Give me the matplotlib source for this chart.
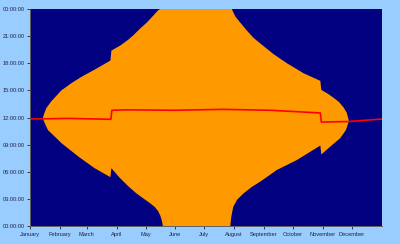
import numpy as np
import matplotlib.pyplot as plt

# day of year -> hours
sunset_day = [13.3, 14.6, 17, 22.2, 32.6, 43, 53.4, 67.2, 83.5, 84.5, 93.6, 102, 107.4, 114,
              121.3, 127, 133.4, 135.5,
              209.6, 213, 218.3, 225.3, 232.2, 242.5, 253, 266.8, 284, 301.5, 302.5,
              309, 315, 321, 325.7, 329, 331.2]
sunset_hr = [11.9, 12.4, 13.05, 13.8, 15.0, 15.8, 16.5, 17.3, 18.3, 19.4, 19.95, 20.6, 21.1, 21.8,
             22.5, 23.15, 23.9, 24,
             24, 23.2, 22.5, 21.6, 20.8, 19.9, 19.0, 18.0, 16.9, 16.05, 15.05,
             14.65, 14.2, 13.7, 13.1, 12.5, 11.6]

sunrise_day = [13.3, 15.2, 18.7, 25.6, 32.6, 50, 67, 83.5, 84.5, 93, 102, 110, 119, 125,
               129.6, 133, 135.5, 137, 138,
               208, 209, 211, 215, 221.7, 230, 239, 256.4, 277.2, 301.5, 302.5, 312, 322,
               328, 331.2]
sunrise_hr = [11.9, 11.4, 10.6, 9.9, 9.17, 7.7, 6.4, 5.4, 6.4, 5.35, 4.4, 3.65, 2.95, 2.5,
              2.1, 1.65, 1.1, 0.55, 0,
              0, 1.0, 2.1, 2.9, 3.6, 4.3, 4.9, 6.2, 7.3, 8.9, 7.9, 8.8, 9.7,
              10.6, 11.6]

noon_day = [0, 40, 84, 85, 100, 150, 200, 250, 301.5, 302.5, 330, 365]
noon_hr = [11.83, 11.9, 11.8, 12.8, 12.85, 12.8, 12.9, 12.8, 12.5, 11.5, 11.55, 11.83]

months = ['January', 'February', 'March', 'April', 'May', 'June', 'July',
          'August', 'September', 'October', 'November', 'December']
month_start = [0, 31, 59, 90, 120, 151, 181, 212, 243, 273, 304, 334]
hour_ticks = [0, 3, 6, 9, 12, 15, 18, 21, 24]
hour_labels = ['00:00:00', '03:00:00', '06:00:00', '09:00:00', '12:00:00',
               '15:00:00', '18:00:00', '21:00:00', '00:00:00']

plt.rcParams['font.family'] = ['Liberation Sans', 'DejaVu Sans']

fig = plt.figure(figsize=(4, 2.44), dpi=100, facecolor='#99CCFF')
ax = fig.add_axes([30/400, 18/244, 351.5/400, 217/244])
ax.set_facecolor('#000080')

poly_x = np.r_[sunset_day, sunrise_day[::-1]]
poly_y = np.r_[sunset_hr, sunrise_hr[::-1]]
ax.fill(poly_x, poly_y, color='#FF9900', lw=0)
ax.plot(noon_day, noon_hr, color='#FF0000', lw=1.2)

ax.set_xlim(0, 365)
ax.set_ylim(0, 24)
ax.set_xticks(month_start)
ax.set_xticklabels(months)
ax.set_yticks(hour_ticks)
ax.set_yticklabels(hour_labels)
ax.tick_params(labelsize=4.1, colors='#202040', length=2.5, width=0.6, pad=1.5)
for s in ['top', 'right']:
    ax.spines[s].set_visible(False)
for s in ['left', 'bottom']:
    ax.spines[s].set_color('#606060')
    ax.spines[s].set_linewidth(0.7)

fig.savefig('out.png', dpi=100, facecolor=fig.get_facecolor())
